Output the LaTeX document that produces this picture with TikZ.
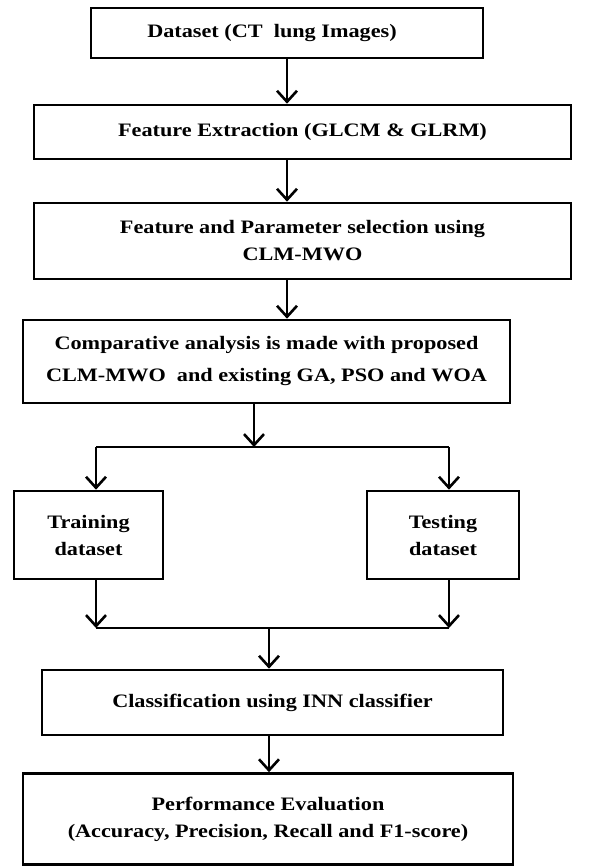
\documentclass[tikz,border=0pt]{standalone}
\usepackage{fontspec}
\setmainfont{Liberation Serif}[FakeStretch=1.17]
\usetikzlibrary{arrows.meta, positioning}

\begin{document}
\begin{tikzpicture}[
    x=1pt, y=-1pt,
    stage/.style={
        rectangle, draw=black, line width=2.6pt,
        fill=white, text=black,
        font=\fontsize{19}{27}\selectfont\bfseries,
        inner sep=0pt, align=center
    },
    arr/.style={-{Straight Barb[length=11pt,width=20pt]}, line width=2.6pt},
    link/.style={line width=2.6pt}
]
\useasboundingbox (0,0) rectangle (593,867);

\node[stage, minimum width=392pt, minimum height=50pt] (data) at (287,33) {Dataset (CT\ \ lung Images)\hspace*{30pt}};
\node[stage, minimum width=537pt, minimum height=54pt] (feat) at (302.5,132) {Feature Extraction (GLCM \& GLRM)};
\node[stage, minimum width=537pt, minimum height=76pt] (sel) at (302.5,241) {Feature and Parameter selection using\\CLM-MWO};
\node[stage, minimum width=487pt, minimum height=83pt] (comp) at (266.5,361.5) {Comparative analysis is made with proposed\\[5pt]CLM-MWO\ \ and existing GA, PSO and WOA};
\node[stage, minimum width=149pt, minimum height=88pt] (train) at (88.5,535) {Training\\dataset};
\node[stage, minimum width=152pt, minimum height=88pt] (test) at (443,535) {Testing\\dataset};
\node[stage, minimum width=461pt, minimum height=65pt] (cls) at (272.5,702.5) {Classification using INN classifier};
\node[stage, minimum width=490pt, minimum height=91pt] (eval) at (268,819) {Performance Evaluation\\(Accuracy, Precision, Recall and F1-score)};

\coordinate (split) at (254,447);
\coordinate (lt) at (96,447);
\coordinate (rt) at (449,447);
\coordinate (lb) at (96,628);
\coordinate (rb) at (449,628);
\coordinate (join) at (269,628);

\draw[arr] (data.south) -- (data.south |- feat.north);
\draw[arr] (data.south |- feat.south) -- (data.south |- sel.north);
\draw[arr] (data.south |- sel.south) -- (data.south |- comp.north);
\draw[arr] (split |- comp.south) -- (split);
\draw[link] (lt) -- (rt);
\draw[arr] (lt) -- (lt |- train.north);
\draw[arr] (rt) -- (rt |- test.north);
\draw[arr] (lt |- train.south) -- (lb);
\draw[arr] (rt |- test.south) -- (rb);
\draw[link] (lb) -- (rb);
\draw[arr] (join) -- (join |- cls.north);
\draw[arr] (join |- cls.south) -- (join |- eval.north);

\end{tikzpicture}
\end{document}
